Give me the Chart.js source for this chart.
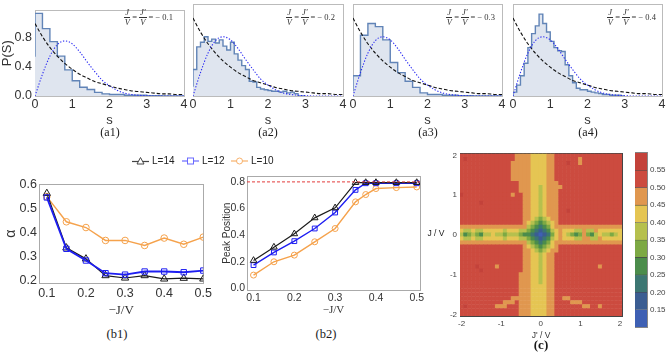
<!DOCTYPE html>
<html>
<head>
<meta charset="utf-8">
<script src="https://cdn.jsdelivr.net/npm/chart.js@4.4.0/dist/chart.umd.min.js"></script>
<style>
  body { margin: 0; width: 667px; height: 354px; position: relative; overflow: hidden; background: #fff;
         font-family: "Liberation Sans", Arial, sans-serif; color: #333; }
  canvas { position: absolute; }
  .t { position: absolute; transform: translate(-50%, -50%); white-space: nowrap; color: #1a1a1a; }
  .serif { font-family: "Liberation Serif", "DejaVu Serif", serif; }
  .cpl { position: absolute; top: 8px; font: 8.5px "Liberation Serif", serif; color: #333;
         display: flex; align-items: center; gap: 2px; white-space: nowrap; }
  .fr { display: inline-flex; flex-direction: column; align-items: center; line-height: 1.05; font-style: italic; }
  .fr span:first-child { border-bottom: 0.7px solid #333; padding: 0 1px; }
  .leg { position: absolute; top: 155px; font-size: 10px; display: flex; align-items: center; gap: 3px; color: #222; }
</style>
</head>
<body>

<canvas id="a1" width="190" height="128" style="left:0;top:0"></canvas>
<canvas id="a2" width="166" height="128" style="left:183px;top:0"></canvas>
<canvas id="a3" width="165" height="128" style="left:343px;top:0"></canvas>
<canvas id="a4" width="164" height="128" style="left:503px;top:0"></canvas>

<div class="cpl" style="right:494px"><span class="fr"><span>J</span><span>V</span></span>=<span class="fr"><span>J'</span><span>V</span></span>= − 0.1</div>
<div class="cpl" style="right:332px"><span class="fr"><span>J</span><span>V</span></span>=<span class="fr"><span>J'</span><span>V</span></span>= − 0.2</div>
<div class="cpl" style="right:172px"><span class="fr"><span>J</span><span>V</span></span>=<span class="fr"><span>J'</span><span>V</span></span>= − 0.3</div>
<div class="cpl" style="right:11px"><span class="fr"><span>J</span><span>V</span></span>=<span class="fr"><span>J'</span><span>V</span></span>= − 0.4</div>

<div class="t serif" style="left:110px;top:132px;font-size:12px">(a1)</div>
<div class="t serif" style="left:268px;top:132px;font-size:12px">(a2)</div>
<div class="t serif" style="left:428px;top:132px;font-size:12px">(a3)</div>
<div class="t serif" style="left:588px;top:132px;font-size:12px">(a4)</div>

<div class="leg" style="left:132px">
  <svg width="17" height="10"><line x1="0" y1="5.5" x2="17" y2="5.5" stroke="#444" stroke-width="1.2"/><polygon points="8.5,1.5 12,8 5,8" fill="#fff" stroke="#444"/></svg>L=14</div>
<div class="leg" style="left:182px">
  <svg width="17" height="10"><line x1="0" y1="5" x2="17" y2="5" stroke="#6a6aff" stroke-width="1.2"/><rect x="5.5" y="2" width="6" height="6" fill="#fff" stroke="#6a6aff"/></svg>L=12</div>
<div class="leg" style="left:231px">
  <svg width="17" height="10"><line x1="0" y1="5" x2="17" y2="5" stroke="#f7b06a" stroke-width="1.2"/><circle cx="8.5" cy="5" r="3" fill="#fff" stroke="#f7b06a"/></svg>L=10</div>

<canvas id="b1" width="215" height="143" style="left:0;top:175px"></canvas>
<canvas id="b2" width="212" height="149" style="left:218px;top:168px"></canvas>
<div class="t serif" style="left:117px;top:334px;font-size:12.5px">(b1)</div>
<div class="t serif" style="left:326px;top:334px;font-size:12.5px">(b2)</div>

<canvas id="map" width="194" height="195" style="left:436px;top:146px"></canvas>
<canvas id="bar" width="39" height="190" style="left:628px;top:145px"></canvas>
<div class="t" style="left:436px;top:233px;font-size:8.5px">J / V</div>
<div class="t serif" style="left:541px;top:345px;font-size:13px;font-weight:bold">(c)</div>

<script>
// level spacing histograms (a1-a4)
const sGrid = [0, 0.2, 0.4, 0.6, 0.8, 1.0, 1.2, 1.4, 1.6, 1.8, 2.0, 2.2, 2.4, 2.6, 2.8, 3.0, 3.2, 3.4, 3.6, 3.8, 4.0];
const poisson = [1.00, 0.82, 0.67, 0.55, 0.45, 0.37, 0.30, 0.25, 0.20, 0.17, 0.14, 0.11, 0.09, 0.07, 0.06, 0.05, 0.04, 0.03, 0.03, 0.02, 0.02];
const wigner = [0, 0.30, 0.55, 0.71, 0.76, 0.72, 0.61, 0.47, 0.34, 0.22, 0.14, 0.08, 0.04, 0.02, 0.01, 0.004, 0, 0, 0, 0, 0];

const a1Bins = [0.54, 1.14, 0.93, 0.75, 0.55, 0.36, 0.21, 0.12, 0.09, 0.05, 0.03, 0.02, 0.02, 0.01, 0.01, 0.01, 0.005, 0.005, 0, 0];
const a2Bins = [0.12, 0.34, 0.63, 0.69, 0.76, 0.70, 0.73, 0.68, 0.72, 0.64, 0.59, 0.69, 0.54, 0.46, 0.39, 0.34, 0.19, 0.18, 0.11, 0.09,
                0.08, 0.07, 0.06, 0.06, 0.05, 0.06, 0.04, 0.05, 0.03, 0];
const a3Bins = [0.06, 0.26, 0.78, 0.93, 0.89, 0.72, 0.43, 0.30, 0.19, 0.11, 0.04, 0.02, 0.02, 0.01, 0.01, 0.005, 0.005, 0, 0, 0];
const a4Bins = [0.0, 0.05, 0.14, 0.26, 0.42, 0.62, 0.80, 0.90, 1.05, 0.93, 0.82, 0.70, 0.62, 0.58, 0.57, 0.40, 0.26, 0.17, 0.10, 0.08,
                0.08, 0.06, 0.05, 0.04, 0.03, 0.02, 0.02, 0.01, 0.01, 0.01];
const sTicks = [0, 1, 2, 3, 4];
const pTicks = [0, 0.2, 0.4, 0.6, 0.8, 1.0];

// alpha and peak position vs -J/V (b1, b2)
const jvAlpha = [0.1, 0.15, 0.2, 0.25, 0.3, 0.35, 0.4, 0.45, 0.5];
const alphaL14 = [0.565, 0.337, 0.291, 0.221, 0.211, 0.221, 0.207, 0.210, 0.207];
const alphaL12 = [0.548, 0.333, 0.284, 0.231, 0.225, 0.238, 0.238, 0.235, 0.242];
const alphaL10 = [0.551, 0.446, 0.422, 0.368, 0.368, 0.347, 0.378, 0.352, 0.382];
const jvPeak = [0.1, 0.15, 0.2, 0.25, 0.3, 0.35, 0.375, 0.4, 0.45, 0.5];
const peakL14 = [0.21, 0.31, 0.41, 0.53, 0.605, 0.795, 0.795, 0.795, 0.795, 0.795];
const peakL12 = [0.175, 0.27, 0.355, 0.45, 0.57, 0.74, 0.79, 0.79, 0.79, 0.79];
const peakL10 = [0.10, 0.20, 0.25, 0.35, 0.45, 0.65, 0.705, 0.75, 0.757, 0.762];
const peakRef = [0.8, 0.8];
const jvTicks = [0.1, 0.2, 0.3, 0.4, 0.5];
const alphaTicks = [0.2, 0.3, 0.4, 0.5, 0.6];
const peakTicks = [0, 0.2, 0.4, 0.6, 0.8];

// contour map (c): one digit per cell = contour level, rows from J/V=2 down to -2, columns J'/V=-2..2
const mapTicks = [-2, -1, 0, 1, 2];
const levelEdges = [0.10, 0.15, 0.20, 0.25, 0.30, 0.35, 0.40, 0.45, 0.50, 0.55, 0.60];
const levelColors = ['#3e60b4', '#3b5d92', '#3c7672', '#4b8c4b', '#7da944', '#b6c04e', '#e5c553', '#e0974f', '#cc4b3f', '#c3423a'];
const barTicks = [0.15, 0.20, 0.25, 0.30, 0.35, 0.40, 0.45, 0.50, 0.55];
const mapRows = [
  '8888888888 8888777766 6677888888 8888888888 8',
  '8988888888 8888777766 6677888888 7888888888 8',
  '8888888888 8887777766 6677888988 7888888888 8',
  '8888888888 8887777766 6677888888 8888888888 8',
  '8888888888 8887777766 6677888888 8888888888 8',
  '8888888888 8887777766 6677888888 8888888888 8',
  '8888888888 8887777766 6677888888 8888888888 8',
  '8888888888 8888877766 6677788888 8888888888 8',
  '8888888888 8888877766 5677778888 8888888888 8',
  '8888888888 8888877766 5677788888 8888888888 8',
  '9888888888 8887887766 5677788888 8888888888 8',
  '8888888888 8888887766 5677788888 8888888888 8',
  '8888898888 8888887766 5677788888 8888888888 8',
  '8888888888 8888887766 5677788888 8888888888 8',
  '8888888888 8888887766 5677788988 8888888888 8',
  '8888888888 8888887766 5677788888 8888888888 8',
  '8888888888 8888887765 4567788888 8888888888 8',
  '8888888888 8888887654 3456788888 8888888888 8',
  '7777777777 7777777543 2346777777 7777777777 7',
  '6556556666 6566655432 1235676665 5755766666 6',
  '5345435565 5455543321 0124676543 4743565545 6',
  '6556556666 6566655432 1235676665 5775576666 6',
  '7777777777 7777777543 2346777777 7777777777 7',
  '8888888888 8888887654 3456788888 8888888888 8',
  '8888888888 8888887765 4567788888 8888888888 8',
  '8888888888 8888887766 5677888888 8888888888 8',
  '8888888888 8888887766 5677888888 8888888888 8',
  '8888888888 8888887766 5677888888 8888888888 8',
  '8888988887 8888887766 5677888888 8888878888 8',
  '8888898888 8888887766 5677888888 8888888888 8',
  '8888888888 8888877766 5677888888 8888888888 8',
  '8888888888 8888877766 5677888888 8888888888 8',
  '8888888888 8888877766 5677888888 8888888888 8',
  '8888888888 8888877766 6677888888 8888888888 8',
  '8888888888 8888877766 6677888888 8888888888 8',
  '8888888888 8888877766 6677888888 8888888888 8',
  '8888888888 8887777766 6677887788 8888888888 8',
  '8888888888 8777877766 6677888877 7888888888 8',
  '8988888887 7788877766 6677888888 8778878888 8',
  '8888888888 8888877766 6677888888 8888888888 8',
  '8888888888 8888877766 6677888888 8888888888 8'
];
const mapStep = 0.1;

Chart.defaults.font.family = '"Liberation Sans", Arial, sans-serif';
Chart.defaults.color = '#333';
Chart.defaults.animation = false;
Chart.defaults.events = [];
Chart.defaults.plugins.legend.display = false;
Chart.defaults.plugins.tooltip.enabled = false;

const noGrid = { display: false, drawTicks: false };
const useTicks = list => scale => { scale.ticks = list.map(v => ({ value: v })); };

// extra empty axes just to close the frame on top and right
function frame(color, xId, yId, yPos) {
  const out = {};
  out[xId] = { type: 'linear', position: 'top', ticks: { display: false }, grid: noGrid,
               border: { color }, afterFit: s => { s.height = 0; } };
  out[yId] = { type: 'linear', position: yPos || 'right', ticks: { display: false }, grid: noGrid,
               border: { color }, afterFit: s => { s.width = 0; } };
  return out;
}

function histogram(id, bins, width, withY, padRight) {
  const steps = bins.map((h, i) => ({ x: i * width, y: h }));
  steps.push({ x: bins.length * width, y: 0 });
  new Chart(document.getElementById(id), {
    type: 'line',
    data: {
      datasets: [
        { data: sGrid.map((s, i) => ({ x: s, y: wigner[i] })), borderColor: '#2b2bf3', borderWidth: 1.1,
          borderDash: [1.3, 1.7], pointRadius: 0, cubicInterpolationMode: 'monotone' },
        { data: sGrid.map((s, i) => ({ x: s, y: poisson[i] })), borderColor: '#111', borderWidth: 1.1,
          borderDash: [3.5, 2], pointRadius: 0, cubicInterpolationMode: 'monotone' },
        { data: steps, stepped: 'after', borderColor: '#6184b7', borderWidth: 1.4,
          backgroundColor: '#dfe5ef', fill: 'origin', pointRadius: 0 }
      ]
    },
    options: {
      responsive: false,
      layout: { padding: { top: 4, right: padRight } },
      scales: {
        x: { type: 'linear', min: 0, max: 4, grid: noGrid, border: { color: '#bbb' },
             afterBuildTicks: useTicks(sTicks),
             ticks: { font: { size: 12.5 }, padding: 1, maxRotation: 0 },
             title: { display: true, text: 's', font: { size: 13 }, padding: 0 },
             afterFit: s => { s.height = 32; } },
        y: { type: 'linear', min: 0, max: 1.18, grid: noGrid, border: { color: '#bbb' },
             afterBuildTicks: useTicks(pTicks),
             ticks: { display: withY, font: { size: 12.5 }, padding: 3, callback: v => v.toFixed(1) },
             title: { display: withY, text: 'P(S)', font: { size: 13 }, padding: 0 },
             afterFit: s => { s.width = withY ? 35 : 10; } },
        ...frame('#bbb', 'xTop', 'yRight')
      }
    }
  });
}

histogram('a1', a1Bins, 0.2, true, 6);
histogram('a2', a2Bins, 0.1, false, 6);
histogram('a3', a3Bins, 0.2, false, 6);
histogram('a4', a4Bins, 0.1, false, 5);

const black = '#1c1c1c', blue = '#1e1ef2', orange = '#f5a24c';
function series(xs, ys, color, style, width, radius) {
  return {
    data: xs.map((x, i) => ({ x, y: ys[i] })),
    borderColor: color, borderWidth: width,
    pointStyle: style, pointRadius: radius, pointBorderColor: color, pointBorderWidth: 1,
    pointBackgroundColor: 'rgba(255,255,255,0)'
  };
}

function scanChart(id, datasets, cfg) {
  new Chart(document.getElementById(id), {
    type: 'line',
    data: { datasets },
    options: {
      responsive: false,
      layout: { padding: { top: 8, right: 10 } },
      scales: {
        x: { type: 'linear', min: cfg.xMin, max: cfg.xMax, grid: noGrid, border: { color: '#aaa' },
             afterBuildTicks: useTicks(jvTicks),
             ticks: { font: { size: cfg.font }, padding: cfg.xPad, maxRotation: 0, callback: v => v.toFixed(1) },
             title: { display: true, text: '−J/V', padding: 0,
                      font: { family: '"Liberation Serif", serif', size: cfg.font + 0.5 } },
             afterFit: s => { s.height = cfg.xh; } },
        y: { type: 'linear', min: cfg.yMin, max: cfg.yMax, grid: noGrid, border: { color: '#aaa' },
             afterBuildTicks: useTicks(cfg.yTicks),
             ticks: { font: { size: cfg.font }, padding: 2, callback: v => v.toFixed(1) },
             title: { display: true, text: cfg.yTitle, font: { size: cfg.titleSize }, padding: cfg.tPad },
             afterFit: s => { s.width = cfg.yw; } },
        ...frame('#aaa', 'xTop', 'yRight')
      }
    }
  });
}

scanChart('b1', [
  series(jvAlpha, alphaL12, blue, 'rect', 1.8, 3.8),
  series(jvAlpha, alphaL14, black, 'triangle', 1.2, 4.2),
  series(jvAlpha, alphaL10, orange, 'circle', 1.4, 3.3)
], { xMin: 0.08, xMax: 0.5, yMin: 0.19, yMax: 0.602, yTicks: alphaTicks, yTitle: 'α',
     font: 12.5, titleSize: 14, tPad: 3, xPad: 3, xh: 35, yw: 39 });

scanChart('b2', [
  { data: [{ x: 0.084, y: peakRef[0] }, { x: 0.508, y: peakRef[1] }], borderColor: '#e23b3b',
    borderWidth: 1, borderDash: [3, 2], pointRadius: 0 },
  series(jvPeak, peakL14, black, 'triangle', 1.2, 3.8),
  series(jvPeak, peakL12, blue, 'rect', 1.4, 3.4),
  series(jvPeak, peakL10, orange, 'circle', 1.4, 3)
], { xMin: 0.084, xMax: 0.508, yMin: -0.012, yMax: 0.842, yTicks: peakTicks, yTitle: 'Peak Position',
     font: 10.5, titleSize: 10, tPad: 3, xPad: 2, xh: 27, yw: 29 });

// contour cells
const cells = [];
mapRows.forEach((row, r) => {
  [...row.replace(/ /g, '')].forEach((ch, c) => {
    cells.push({ x: -2 + c * mapStep, y: 2 - r * mapStep, v: +ch });
  });
});

new Chart(document.getElementById('map'), {
  type: 'scatter',
  data: {
    datasets: [{
      data: cells, clip: 0, pointStyle: 'rect', pointBorderWidth: 0,
      pointBackgroundColor: ctx => levelColors[ctx.raw.v],
      pointRadius: ctx => {
        const a = ctx.chart.chartArea;
        if (!a) return 3;
        const side = Math.max((a.right - a.left) / 40.9, (a.bottom - a.top) / 40.8) + 0.6;
        return side / Math.SQRT2;
      }
    }]
  },
  options: {
    responsive: false,
    layout: { padding: { top: 5, right: 8 } },
    scales: {
      x: { type: 'linear', min: -2.04, max: 2.05, grid: noGrid, border: { color: '#444' },
           afterBuildTicks: useTicks(mapTicks),
           ticks: { font: { size: 8 }, color: '#444', padding: 3, maxRotation: 0 },
           title: { display: true, text: "J' / V", font: { size: 8.5 }, padding: 0 },
           afterFit: s => { s.height = 25; } },
      y: { type: 'linear', min: -2.04, max: 2.04, grid: noGrid, border: { color: '#444' },
           afterBuildTicks: useTicks(mapTicks),
           ticks: { font: { size: 8 }, color: '#444', padding: 3 },
           afterFit: s => { s.width = 24; } },
      ...frame('#444', 'xTop', 'yRight')
    }
  }
});

// colour bar
new Chart(document.getElementById('bar'), {
  type: 'bar',
  data: {
    labels: [''],
    datasets: levelColors.map((col, i) => ({
      data: [[levelEdges[i], levelEdges[i + 1]]], backgroundColor: col, grouped: false,
      barPercentage: 1, categoryPercentage: 1, borderSkipped: false,
      borderColor: '#444', borderWidth: { top: 0.6, bottom: 0, left: 0, right: 0 }
    }))
  },
  options: {
    responsive: false,
    layout: { padding: { left: 7, top: 4, bottom: 4 } },
    scales: {
      x: { ticks: { display: false }, grid: noGrid, border: { color: '#888' }, afterFit: s => { s.height = 0; } },
      y: { position: 'right', min: 0.1, max: 0.6, grid: noGrid, border: { color: '#888' },
           afterBuildTicks: useTicks(barTicks),
           ticks: { font: { size: 8 }, color: '#444', padding: 3, callback: v => v.toFixed(2) },
           afterFit: s => { s.width = 20; } },
      ...frame('#888', 'xTop', 'yLeft', 'left')
    }
  }
});
</script>
</body>
</html>
